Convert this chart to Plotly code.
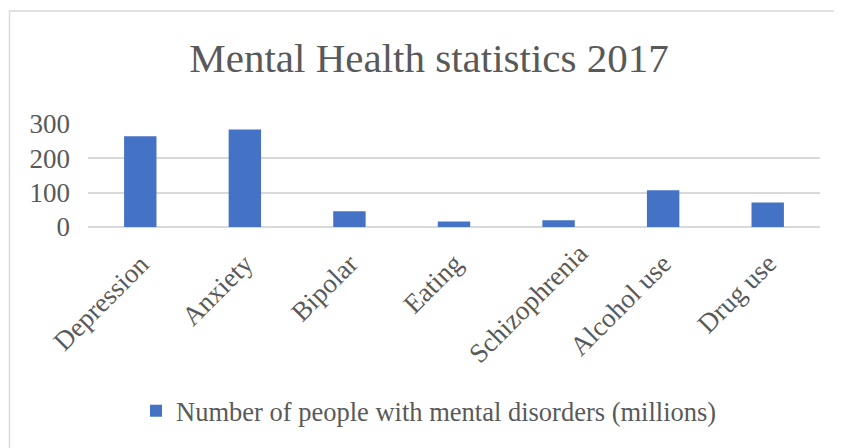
import plotly.graph_objects as go

categories = ["Depression", "Anxiety", "Bipolar", "Eating", "Schizophrenia", "Alcohol use", "Drug use"]
values = [264, 284, 46, 16, 20, 107, 71]
series_name = "Number of people with mental disorders (millions)"
y_ticks = [0, 100, 200, 300]

FONT = "Liberation Serif, Times New Roman, serif"
TXT = "#595959"

# page body has an 8px margin; figure laid out in its own coordinates
W, H = 834, 440
L, R, T, B = 80, 22, 116, 221
PW = W - L - R
PH = H - T - B

# the reference nudges one long label up along its direction
label_nudge = {"Schizophrenia": (20, 10)}

fig = go.Figure()
fig.add_trace(go.Bar(
    x=categories, y=values, name=series_name,
    marker=dict(color="#4472C4", line=dict(width=0)),
    showlegend=True,
))

annotations = []
for cat in categories:
    dx, dy = label_nudge.get(cat, (0, 0))
    annotations.append(dict(
        text=cat, x=cat, xref="x", y=0, yref="paper",
        xanchor="right", yanchor="top", textangle=-45, showarrow=False,
        xshift=17 + dx, yshift=-19 + dy,
        font=dict(family=FONT, size=27, color=TXT),
    ))

fig.update_layout(
    width=W, height=H,
    margin=dict(l=L, r=R, t=T, b=B, autoexpand=False),
    paper_bgcolor="white", plot_bgcolor="white",
    bargap=0.69,
    font=dict(family=FONT, color=TXT),
    title=dict(text="Mental Health statistics 2017", x=421 / W, xref="container", xanchor="center",
               y=1 - 50 / H, yref="container", yanchor="middle",
               font=dict(family=FONT, size=41, color=TXT)),
    xaxis=dict(range=[-0.5, len(categories) - 0.5], autorange=False,
               showticklabels=False, showgrid=False, showline=False, zeroline=False, ticks=""),
    yaxis=dict(range=[0, 300], tickvals=y_ticks, tickfont=dict(family=FONT, size=27, color=TXT),
               showgrid=True, gridcolor="#d9d9d9", gridwidth=1.5, zeroline=True,
               zerolinecolor="#d9d9d9", zerolinewidth=1.5, showline=False,
               ticklabelstandoff=17),
    legend=dict(orientation="h", x=(128 - L) / PW, xanchor="left",
                y=((H - B) - 403) / PH, yanchor="middle",
                font=dict(family=FONT, size=26.5, color=TXT), bgcolor="rgba(0,0,0,0)"),
    annotations=annotations,
    shapes=[dict(type="rect", xref="paper", yref="paper",
                 x0=(1.5 - L) / PW, x1=1.3, y0=-3, y1=((H - B) - 3) / PH,
                 line=dict(color="#d9d9d9", width=1.5), fillcolor="rgba(0,0,0,0)", layer="below")],
)

fig.write_html("out.html")
